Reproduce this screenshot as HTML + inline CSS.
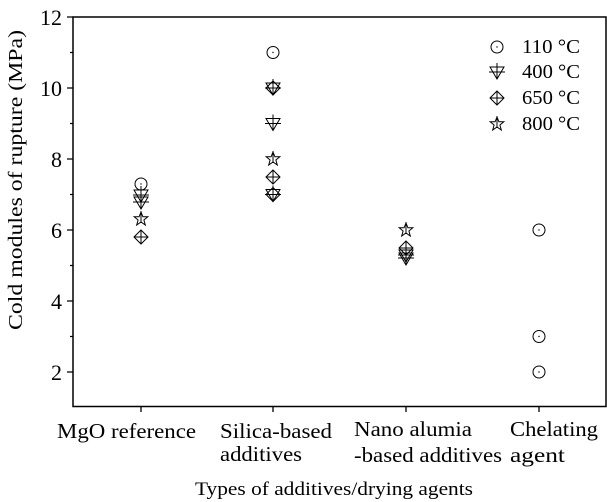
<!DOCTYPE html><html><head><style>body{margin:0;background:#fff}svg{display:block}text{font-family:"Liberation Serif",serif;fill:#000}</style></head><body>
<svg width="607" height="502" viewBox="0 0 607 502">
<defs>
<g id="c"><circle r="6" fill="none" stroke="#000" stroke-width="1"/><circle r="0.7" fill="#000"/></g>
<g id="t" fill="none" stroke="#000" stroke-width="1"><path d="M-7,-5 L7,-5 L0,7 Z"/><path d="M0,-9 V7 M-8,0 H8"/></g>
<g id="d" fill="none" stroke="#000" stroke-width="1"><path d="M0,-7 L7,0 L0,7 L-7,0 Z"/><path d="M0,-7 V7 M-7,0 H7"/></g>
<g id="s" fill="none" stroke="#000" stroke-width="1"><path d="M0,-7 L1.9,-2.2 L6.8,-2.2 L2.9,1 L4.3,6 L0,3 L-4.3,6 L-2.9,1 L-6.8,-2.2 L-1.9,-2.2 Z"/><path d="M0,-8 V4"/></g>
</defs>
<rect x="73" y="17" width="533" height="389.5" fill="none" stroke="#000" stroke-width="1.5"/>
<g stroke="#000" stroke-width="1.3">
<path d="M73,17h-6M73,88h-6M73,159h-6M73,230h-6M73,301h-6M73,372h-6"/>
<path d="M73,52.5h-3M73,123.5h-3M73,194.5h-3M73,265.5h-3M73,336.5h-3"/>
<path d="M141,406v6M273,406v6M406,406v6M539,406v6"/>
</g>
<g font-size="22" text-anchor="end">
<text x="62" y="25">12</text><text x="62" y="96">10</text><text x="62" y="167">8</text><text x="62" y="238">6</text><text x="62" y="309">4</text><text x="62" y="380">2</text>
</g>
<text transform="translate(22,180) rotate(-90)" font-size="20" text-anchor="middle" textLength="300" lengthAdjust="spacingAndGlyphs">Cold modules of rupture (MPa)</text>
<g font-size="21">
<text x="57" y="438" textLength="139" lengthAdjust="spacingAndGlyphs">MgO reference</text>
<text x="220" y="438" textLength="112" lengthAdjust="spacingAndGlyphs">Silica-based</text><text x="220" y="461" textLength="82" lengthAdjust="spacingAndGlyphs">additives</text>
<text x="354" y="436" textLength="118" lengthAdjust="spacingAndGlyphs">Nano alumia</text><text x="354" y="462" textLength="148" lengthAdjust="spacingAndGlyphs">-based additives</text>
<text x="510" y="436" textLength="88" lengthAdjust="spacingAndGlyphs">Chelating</text><text x="510" y="462" textLength="55" lengthAdjust="spacingAndGlyphs">agent</text>
</g>
<text x="195" y="495" font-size="19" textLength="278" lengthAdjust="spacingAndGlyphs">Types of  additives/drying agents</text>
<!-- MgO -->
<use href="#c" x="141" y="184"/><use href="#t" x="141" y="195"/><use href="#t" x="141" y="202"/><use href="#s" x="141" y="219"/><use href="#d" x="141" y="237"/>
<!-- Silica -->
<use href="#c" x="273" y="52.5"/><use href="#d" x="273" y="88"/><use href="#t" x="273" y="88"/><use href="#t" x="273" y="123.5"/><use href="#s" x="273" y="159"/><use href="#d" x="273" y="177"/><use href="#d" x="273" y="194.5"/><use href="#t" x="273" y="194.5"/>
<!-- Nano -->
<use href="#s" x="406" y="230"/><use href="#d" x="406" y="248"/><use href="#t" x="406" y="255"/><use href="#t" x="406" y="258"/>
<!-- Chelating -->
<use href="#c" x="539" y="230"/><use href="#c" x="539" y="336.5"/><use href="#c" x="539" y="372"/>
<!-- legend -->
<use href="#c" x="497" y="47"/><use href="#t" x="497" y="72"/><use href="#d" x="497" y="98"/><use href="#s" x="497" y="124"/>
<g font-size="20"><text x="522" y="53" textLength="58" lengthAdjust="spacingAndGlyphs">110 °C</text><text x="522" y="78" textLength="58" lengthAdjust="spacingAndGlyphs">400 °C</text><text x="522" y="104" textLength="58" lengthAdjust="spacingAndGlyphs">650 °C</text><text x="522" y="130" textLength="58" lengthAdjust="spacingAndGlyphs">800 °C</text></g>
</svg></body></html>
